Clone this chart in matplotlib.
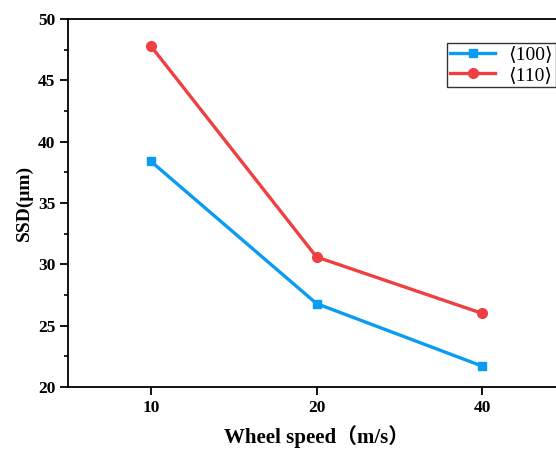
import matplotlib
matplotlib.use("Agg")
import matplotlib.pyplot as plt
from matplotlib.ticker import MultipleLocator

speeds = ["10", "20", "40"]
ssd_100 = [38.4, 26.8, 21.7]
ssd_110 = [47.8, 30.6, 26.0]
labels = ["⟨100⟩", "⟨110⟩"]

plt.rcParams["font.family"] = ["Liberation Serif", "DejaVu Serif", "Noto Sans CJK SC"]

fig = plt.figure(figsize=(5.56, 4.5), dpi=100)
ax = fig.add_axes([0.1223, 0.14, 0.894, 0.8178])

x = list(range(len(speeds)))
ax.plot(x, ssd_100, color="#0A9BF2", lw=2.4, marker="s", ms=6, label=labels[0])
ax.plot(x, ssd_110, color="#EE4043", lw=2.4, marker="o", ms=7, label=labels[1])

ax.set_xlim(-0.5, 2.5)
ax.set_ylim(20, 50)
ax.set_xticks(x)
ax.set_xticklabels(speeds)
ax.yaxis.set_major_locator(MultipleLocator(5))
ax.yaxis.set_minor_locator(MultipleLocator(2.5))

for s in ax.spines.values():
    s.set_linewidth(1.3)
ax.tick_params(axis="both", which="major", direction="out", length=5.5, width=1.3,
               labelsize=12.5)
ax.tick_params(axis="y", which="minor", direction="out", length=3, width=1.2)
for lab in ax.get_xticklabels() + ax.get_yticklabels():
    lab.set_fontweight("bold")

ax.set_xlabel("Wheel speed（m/s）", fontsize=15, fontweight="bold", labelpad=7,
              family=["Liberation Serif", "Noto Sans CJK SC"])
ax.set_ylabel("SSD(μm)", fontsize=14, fontweight="bold", labelpad=4)

leg = ax.legend(loc="upper right", bbox_to_anchor=(0.982, 0.935), fontsize=14,
                frameon=True, fancybox=False, edgecolor="black",
                handlelength=2.3, borderpad=0.15, labelspacing=0.15,
                handletextpad=0.7, borderaxespad=0)
leg.get_frame().set_linewidth(1.0)

fig.savefig("out.png", dpi=100)
